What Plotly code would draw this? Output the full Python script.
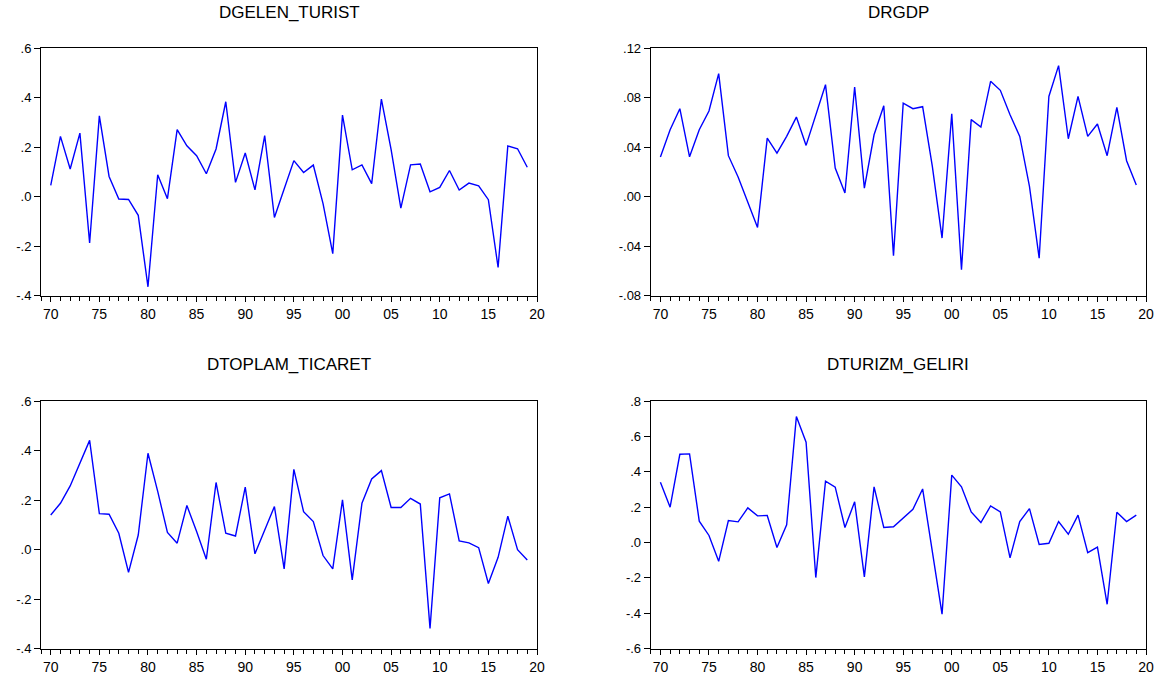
import plotly.graph_objects as go

years = list(range(1970, 2020))

dgelen_turist = [0.046, 0.244, 0.112, 0.257, -0.187, 0.327, 0.082, -0.009, -0.011, -0.075,
                 -0.364, 0.089, -0.008, 0.271, 0.206, 0.166, 0.093, 0.193, 0.384, 0.058,
                 0.177, 0.028, 0.247, -0.084, 0.031, 0.146, 0.098, 0.128, -0.028, -0.230,
                 0.330, 0.109, 0.129, 0.053, 0.395, 0.190, -0.046, 0.129, 0.132, 0.020,
                 0.038, 0.106, 0.027, 0.055, 0.044, -0.012, -0.286, 0.205, 0.194, 0.119]

drgdp = [0.0321, 0.0542, 0.0712, 0.0323, 0.0542, 0.0693, 0.0995, 0.0332, 0.0160, -0.0040,
         -0.0248, 0.0474, 0.0353, 0.0488, 0.0644, 0.0415, 0.0665, 0.0906, 0.0232, 0.0030,
         0.0887, 0.0070, 0.0501, 0.0736, -0.0477, 0.0757, 0.0712, 0.0728, 0.0245, -0.0334,
         0.0671, -0.0590, 0.0623, 0.0563, 0.0933, 0.0860, 0.0663, 0.0488, 0.0084, -0.0496,
         0.0811, 0.1060, 0.0469, 0.0811, 0.0488, 0.0588, 0.0332, 0.0722, 0.0291, 0.0094]

dtoplam_ticaret = [0.140, 0.187, 0.257, 0.349, 0.441, 0.145, 0.143, 0.066, -0.092, 0.059,
                   0.389, 0.235, 0.069, 0.026, 0.178, 0.073, -0.039, 0.271, 0.066, 0.055,
                   0.252, -0.017, 0.079, 0.174, -0.078, 0.324, 0.153, 0.113, -0.024, -0.078,
                   0.201, -0.122, 0.187, 0.285, 0.319, 0.170, 0.170, 0.207, 0.184, -0.318,
                   0.209, 0.225, 0.035, 0.027, 0.008, -0.137, -0.031, 0.135, 0.000, -0.042]

dturizm_geliri = [0.341, 0.200, 0.499, 0.501, 0.121, 0.040, -0.106, 0.124, 0.117, 0.196,
                  0.151, 0.153, -0.028, 0.100, 0.712, 0.567, -0.198, 0.347, 0.313, 0.085,
                  0.230, -0.194, 0.315, 0.085, 0.089, 0.139, 0.188, 0.303, -0.050, -0.405,
                  0.381, 0.315, 0.173, 0.113, 0.207, 0.173, -0.087, 0.119, 0.192, -0.011,
                  -0.004, 0.119, 0.047, 0.155, -0.057, -0.026, -0.349, 0.171, 0.119, 0.155]

titles = ["DGELEN_TURIST", "DRGDP", "DTOPLAM_TICARET", "DTURIZM_GELIRI"]

x_tickvals = list(range(1970, 2021, 5))
x_ticktext = ["70", "75", "80", "85", "90", "95", "00", "05", "10", "15", "20"]

y_ticks_tl = [-0.4, -0.2, 0.0, 0.2, 0.4, 0.6]
y_text_tl = ["-.4", "-.2", ".0", ".2", ".4", ".6"]
y_ticks_tr = [-0.08, -0.04, 0.0, 0.04, 0.08, 0.12]
y_text_tr = ["-.08", "-.04", ".00", ".04", ".08", ".12"]
y_ticks_bl = [-0.4, -0.2, 0.0, 0.2, 0.4, 0.6]
y_text_bl = ["-.4", "-.2", ".0", ".2", ".4", ".6"]
y_ticks_br = [-0.6, -0.4, -0.2, 0.0, 0.2, 0.4, 0.6, 0.8]
y_text_br = ["-.6", "-.4", "-.2", ".0", ".2", ".4", ".6", ".8"]

series = [dgelen_turist, drgdp, dtoplam_ticaret, dturizm_geliri]
yticks = [(y_ticks_tl, y_text_tl), (y_ticks_tr, y_text_tr), (y_ticks_bl, y_text_bl), (y_ticks_br, y_text_br)]
yranges = [[-0.4, 0.6], [-0.08, 0.12], [-0.4, 0.6], [-0.6, 0.8]]

W, H = 1162, 681


def px_x(v):
    return v / W


def px_y(v):
    return 1 - v / H


xdoms = [[px_x(41), px_x(537)], [px_x(650.7), px_x(1146)]]
ydoms = [[px_y(295.7), px_y(48.3)], [px_y(648.7), px_y(401)]]

FONT = "Liberation Sans, Arial, sans-serif"

fig = go.Figure()
layout = dict(
    width=W, height=H,
    margin=dict(l=0, r=0, t=0, b=0, pad=0),
    paper_bgcolor="white", plot_bgcolor="white",
    showlegend=False,
    font=dict(family=FONT, color="black"),
    annotations=[],
)

for i in range(4):
    row, col = divmod(i, 2)
    sfx = "" if i == 0 else str(i + 1)
    fig.add_trace(go.Scatter(
        x=years, y=series[i], mode="lines",
        line=dict(color="#0000FF", width=1.4),
        xaxis="x" + sfx, yaxis="y" + sfx, hoverinfo="x+y",
    ))
    layout["xaxis" + sfx] = dict(
        domain=xdoms[col], anchor="y" + sfx, range=[1969, 2020],
        tickvals=x_tickvals, ticktext=x_ticktext,
        ticks="outside", ticklen=5, tickcolor="black", tickwidth=1,
        minor=dict(dtick=1, tick0=1969, ticks="outside", ticklen=4, tickcolor="black", tickwidth=1),
        showline=True, linecolor="black", linewidth=1, mirror=True,
        showgrid=False, zeroline=False, automargin=False,
        tickfont=dict(size=14, family=FONT, color="black"),
    )
    layout["yaxis" + sfx] = dict(
        domain=ydoms[row], anchor="x" + sfx, range=yranges[i],
        tickvals=yticks[i][0], ticktext=yticks[i][1],
        ticks="outside", ticklen=6, tickcolor="black", tickwidth=1,
        showline=True, linecolor="black", linewidth=1, mirror=True,
        showgrid=False, zeroline=False, automargin=False,
        tickfont=dict(size=13, family=FONT, color="black"),
    )
    xc = (xdoms[col][0] + xdoms[col][1]) / 2
    ytitle = px_y(12.5 if row == 0 else 364)
    layout["annotations"].append(dict(
        text=titles[i], x=xc, y=ytitle, xref="paper", yref="paper",
        xanchor="center", yanchor="middle", showarrow=False,
        font=dict(size=17, family=FONT, color="black"),
    ))

fig.update_layout(**layout)
fig.write_html(
    "out.html",
    config={"displayModeBar": False},
    post_script="document.body.style.margin='0px';document.body.style.overflow='hidden';",
)
